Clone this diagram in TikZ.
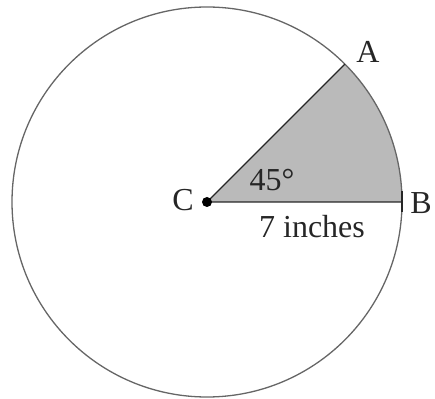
\documentclass[tikz,border=0pt]{standalone}
\usepackage{fontspec}
\setmainfont{Liberation Serif}
\begin{document}
\begin{tikzpicture}[x=1pt,y=1pt,
  lbl/.style={inner sep=0pt, font=\fontsize{32}{32}\selectfont, text=black!85},
  rim/.style={draw=black!60, line width=1.3pt},
  radius line/.style={draw=black!85, line width=1.4pt}]
\useasboundingbox (0,0) rectangle (435,398);
\coordinate (C) at (207,196);
\coordinate (B) at (402,196);
\coordinate (A) at (344.9,333.9);
\fill[black!27] (C) -- (B) arc[start angle=0, end angle=45, radius=195] -- cycle;
\draw[rim] (C) circle[radius=195];
\draw[radius line] (A) -- (C) -- (B);
\coordinate (Bt) at (402,186);
\coordinate (Bb) at (402,207);
\draw[radius line] (Bt) -- (Bb);
\fill[black] (C) circle[radius=5];
\node[lbl] (lA) at (368,346) {A};
\node[lbl] (lB) at (421,195) {B};
\node[lbl] (lC) at (183,198) {C};
\node[lbl] (ang) at (272,218) {45°};
\node[lbl] (len) at (312,171) {7 inches};
\end{tikzpicture}
\end{document}
